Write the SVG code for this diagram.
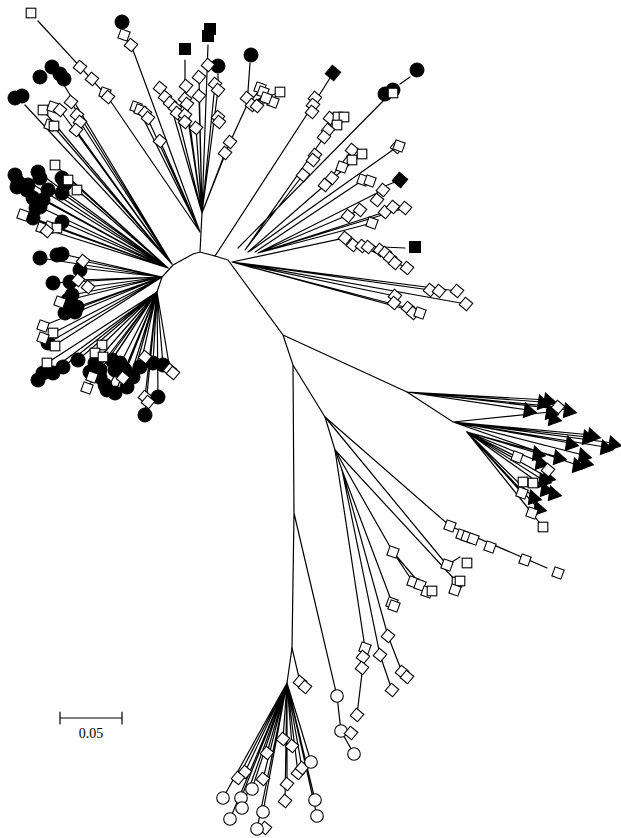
<svg xmlns="http://www.w3.org/2000/svg" xmlns:xlink="http://www.w3.org/1999/xlink" width="621" height="838" viewBox="0 0 621 838">
<style>
.ln{stroke:#000;stroke-width:1.2;fill:none;stroke-linecap:round}
.o{fill:#fff;stroke:#000;stroke-width:1.1}
.f{fill:#000;stroke:#000;stroke-width:1}
.t{font-family:"Liberation Serif",serif;font-size:14px;fill:#000}
</style>
<defs>
<circle id="fc" r="7" class="f"/>
<circle id="oc" r="6.3" class="o"/>
<rect id="dm" x="-4.8" y="-4.8" width="9.6" height="9.6" transform="rotate(40)" class="o"/>
<rect id="d2" x="-4.8" y="-4.8" width="9.6" height="9.6" transform="rotate(20)" class="o"/>
<rect id="sq" x="-4.8" y="-4.8" width="9.6" height="9.6" class="o"/>
<rect id="fs" x="-5.5" y="-5.5" width="11" height="11" class="f"/>
<rect id="fd" x="-5.5" y="-5.5" width="11" height="11" transform="rotate(40)" class="f"/>
<path id="tr" d="M0,-7.5 L7,5.5 L-7,5.5 Z" transform="rotate(-20)" class="f"/>
</defs>
<rect width="621" height="838" fill="#fff"/>
<g id="connectors" class="ln">
<path d="M157,292 L162,277 L173,265 L193,254 L200,252 L215,256 L228,260 M200,252 L202,213 M228,260 L283,335 L293,365 L294,513 L292,648 L287,683 M283,335 L407,392 M293,365 L325,417 L335,450 L342,470 M294,513 L305,560 L337,696 L341,731 L354,754 M341,731 L351,733"/>
<path d="M200,232 L107,96 L38,21 M200,232 L133,50 L124,35 M200,232 L160,141 M200,232 L146,115 M200,232 L138,108 M202,213 L196,128 M202,213 L185,99 L185,60 M202,213 L199,77 M202,213 L208,45 M202,213 L218,90 L218,74 M202,213 L225,153 M202,213 L230,142 M225,153 L247,105 L250,63 M247,105 L260,90 M247,105 L280,92 M247,105 L273,102 M247,105 L265,96 M202,213 L187,104 M202,213 L199,96 M202,213 L215,84 M202,213 L177,113 M202,213 L170,103"/>
<path d="M215,256 L313,105 L330,78 M238,248 L387,97 L397,87 M400,84 L410,77 M245,250 L324,137 L338,117 M324,137 L344,117 M324,137 L330,118 M245,250 L303,175 M248,252 L325,185 L352,150 M325,185 L362,154 M250,251 L397,147 M255,252 L363,180 M363,180 L370,180 M380,188 L395,182 M258,253 L383,190 M258,253 L405,208 M258,253 L385,212 M258,253 L360,210 M258,253 L372,223 M232,262 L345,238 L407,268 M360,246 L405,248 M232,262 L457,291 M232,262 L466,304 M232,262 L430,290 M232,262 L420,313 M232,262 L395,296 M232,262 L408,308"/>
<path d="M407,392 L542,402 M407,392 L548,400 M407,392 L528,410 M407,392 L558,407 M407,392 L568,410 M407,392 L453,422 L587,437 M453,422 L592,435 M453,422 L570,443 M453,422 L605,447 M453,422 L613,443 M453,422 L583,455 M453,422 L577,465 M467,432 L558,457 M467,432 L537,453 M467,432 L517,457 M467,432 L540,462 M467,432 L547,477 M467,432 L553,493 M467,432 L533,497 M467,432 L538,508 M467,432 L543,480 M467,432 L532,513 M467,432 L543,527 M467,432 L522,493 M453,422 L550,412"/>
<path d="M325,417 L450,526 L547,568 M325,417 L447,565 M447,565 L460,557 M335,450 L457,582 M335,450 L393,552 L413,582 M393,552 L427,592 M342,470 L393,605 M342,470 L388,636 L402,672 M342,470 L380,655 L392,690 M335,450 L365,648 L357,715"/>
<path d="M292,648 L300,682 L305,687 M287,683 L245,772 M287,683 L238,778 M287,683 L267,753 M287,683 L263,779 M287,683 L252,789 M287,683 L241,798 M287,683 L223,798 M287,683 L230,819 M287,683 L242,808 M287,683 L263,812 M287,683 L257,829 M287,683 L283,739 M287,683 L292,746 M287,683 L285,801 M287,683 L287,784 M287,683 L298,773 M287,683 L302,768 M287,683 L311,762 M287,683 L315,800 M287,683 L317,816"/>
<path d="M172,264 L71,102 M172,264 L80,122 M172,264 L76,130 M172,264 L43,110 M172,264 L53,126 M172,264 L25,105 M172,264 L64,85 M172,264 L60,110"/>
<path d="M168,268 L13,172 M168,268 L38,172 M168,268 L62,177 M168,268 L55,165 M168,268 L68,178 M168,268 L77,190 M168,268 L27,190 M168,268 L43,200 M168,268 L62,193 M168,268 L40,207 M168,268 L33,218 M168,268 L62,222 M168,268 L23,215 M168,268 L42,228 M168,268 L57,228 M168,268 L50,190"/>
<path d="M162,277 L40,258 M162,277 L62,254 M162,277 L83,261 M162,277 L80,268 M162,277 L53,283 M162,277 L70,282 M162,277 L78,280 M162,277 L88,287 M162,277 L72,295 M162,277 L77,307 M162,277 L65,313 M162,277 L60,302 M162,277 L43,326 M162,277 L53,333 M162,277 L55,345 M162,277 L48,343"/>
<path d="M157,292 L38,380 M157,292 L47,363 M157,292 L63,367 M157,292 L78,360 M157,292 L95,363 M157,292 L102,345 M157,292 L100,377 M157,292 L112,360 M157,292 L115,393 M157,292 L127,387 M157,292 L133,377 M157,292 L140,367 M157,292 L153,363 M157,292 L163,365 M157,292 L170,370 M157,292 L158,397 M157,292 L145,415 M157,292 L145,397 M157,292 L123,378 M157,292 L92,377 M157,292 L87,388 M157,292 L107,390"/>
<path d="M60,718 L122,718 M60,712 L60,724 M122,712 L122,724"/>
</g>
<g id="markers">
<use xlink:href="#sq" x="31" y="13"/>
<use xlink:href="#dm" x="80" y="67"/><use xlink:href="#dm" x="92" y="79"/><use xlink:href="#d2" x="105" y="93"/><use xlink:href="#dm" x="108" y="97"/>
<use xlink:href="#fc" x="122" y="22"/><use xlink:href="#d2" x="124" y="35"/><use xlink:href="#dm" x="131" y="45"/>
<use xlink:href="#dm" x="160" y="141"/><use xlink:href="#d2" x="136" y="107"/><use xlink:href="#d2" x="140" y="110"/><use xlink:href="#dm" x="145" y="113"/><use xlink:href="#dm" x="148" y="118"/>
<use xlink:href="#dm" x="160" y="88"/><use xlink:href="#dm" x="165" y="97"/><use xlink:href="#dm" x="170" y="103"/><use xlink:href="#dm" x="175" y="108"/><use xlink:href="#dm" x="177" y="113"/><use xlink:href="#dm" x="185" y="115"/><use xlink:href="#dm" x="185" y="122"/>
<use xlink:href="#fs" x="185" y="49"/><use xlink:href="#fs" x="208" y="36"/><use xlink:href="#fs" x="210" y="29"/>
<use xlink:href="#fc" x="218" y="66"/><use xlink:href="#dm" x="208" y="65"/><use xlink:href="#fc" x="251" y="55"/>
<use xlink:href="#dm" x="199" y="77"/><use xlink:href="#dm" x="186" y="86"/><use xlink:href="#dm" x="199" y="96"/><use xlink:href="#dm" x="185" y="99"/><use xlink:href="#dm" x="187" y="104"/><use xlink:href="#dm" x="215" y="84"/><use xlink:href="#dm" x="218" y="90"/><use xlink:href="#dm" x="196" y="128"/><use xlink:href="#dm" x="218" y="117"/><use xlink:href="#dm" x="219" y="122"/><use xlink:href="#dm" x="230" y="142"/><use xlink:href="#dm" x="225" y="153"/>
<use xlink:href="#dm" x="247" y="98"/><use xlink:href="#d2" x="260" y="88"/><use xlink:href="#d2" x="263" y="92"/><use xlink:href="#sq" x="280" y="92"/><use xlink:href="#d2" x="273" y="102"/><use xlink:href="#dm" x="252" y="105"/><use xlink:href="#dm" x="257" y="106"/><use xlink:href="#d2" x="266" y="98"/>
<use xlink:href="#fc" x="52" y="67"/><use xlink:href="#fc" x="60" y="74"/><use xlink:href="#fc" x="64" y="79"/><use xlink:href="#fc" x="40" y="77"/><use xlink:href="#fc" x="15" y="98"/><use xlink:href="#fc" x="22" y="96"/>
<use xlink:href="#dm" x="71" y="102"/><use xlink:href="#dm" x="77" y="115"/><use xlink:href="#dm" x="80" y="122"/><use xlink:href="#dm" x="76" y="130"/><use xlink:href="#sq" x="43" y="110"/><use xlink:href="#d2" x="53" y="107"/><use xlink:href="#dm" x="60" y="110"/><use xlink:href="#d2" x="50" y="125"/><use xlink:href="#sq" x="54" y="126"/>
<use xlink:href="#fc" x="15" y="175"/><use xlink:href="#fc" x="18" y="182"/><use xlink:href="#fc" x="17" y="187"/><use xlink:href="#fc" x="38" y="172"/><use xlink:href="#fc" x="40" y="178"/><use xlink:href="#fc" x="62" y="178"/><use xlink:href="#fc" x="65" y="184"/><use xlink:href="#fc" x="27" y="190"/><use xlink:href="#fc" x="33" y="198"/><use xlink:href="#fc" x="43" y="200"/><use xlink:href="#fc" x="62" y="193"/><use xlink:href="#fc" x="40" y="207"/><use xlink:href="#fc" x="33" y="218"/><use xlink:href="#fc" x="62" y="222"/><use xlink:href="#fc" x="28" y="185"/><use xlink:href="#fc" x="48" y="190"/><use xlink:href="#fc" x="36" y="208"/>
<use xlink:href="#sq" x="55" y="165"/><use xlink:href="#sq" x="68" y="180"/><use xlink:href="#sq" x="77" y="190"/><use xlink:href="#d2" x="23" y="215"/><use xlink:href="#d2" x="42" y="228"/><use xlink:href="#d2" x="50" y="227"/><use xlink:href="#sq" x="57" y="228"/><use xlink:href="#dm" x="47" y="231"/>
<use xlink:href="#fc" x="40" y="258"/><use xlink:href="#fc" x="57" y="255"/><use xlink:href="#fc" x="62" y="254"/><use xlink:href="#fc" x="80" y="270"/><use xlink:href="#fc" x="53" y="283"/><use xlink:href="#fc" x="70" y="282"/><use xlink:href="#fc" x="72" y="295"/><use xlink:href="#fc" x="77" y="307"/><use xlink:href="#fc" x="65" y="313"/><use xlink:href="#fc" x="75" y="312"/><use xlink:href="#fc" x="48" y="343"/><use xlink:href="#fc" x="68" y="300"/>
<use xlink:href="#dm" x="83" y="261"/><use xlink:href="#dm" x="78" y="280"/><use xlink:href="#dm" x="88" y="287"/><use xlink:href="#d2" x="60" y="302"/><use xlink:href="#d2" x="43" y="326"/><use xlink:href="#sq" x="53" y="333"/><use xlink:href="#d2" x="43" y="338"/><use xlink:href="#sq" x="55" y="346"/>
<use xlink:href="#fc" x="38" y="380"/><use xlink:href="#fc" x="43" y="373"/><use xlink:href="#fc" x="53" y="373"/><use xlink:href="#fc" x="63" y="367"/><use xlink:href="#fc" x="78" y="360"/><use xlink:href="#fc" x="95" y="363"/><use xlink:href="#fc" x="100" y="377"/><use xlink:href="#fc" x="112" y="360"/><use xlink:href="#fc" x="115" y="370"/><use xlink:href="#fc" x="120" y="363"/><use xlink:href="#fc" x="107" y="390"/><use xlink:href="#fc" x="115" y="393"/><use xlink:href="#fc" x="127" y="387"/><use xlink:href="#fc" x="133" y="377"/><use xlink:href="#fc" x="140" y="367"/><use xlink:href="#fc" x="153" y="363"/><use xlink:href="#fc" x="163" y="365"/><use xlink:href="#fc" x="158" y="397"/><use xlink:href="#fc" x="145" y="415"/><use xlink:href="#fc" x="100" y="370"/><use xlink:href="#fc" x="105" y="385"/><use xlink:href="#fc" x="125" y="370"/><use xlink:href="#fc" x="90" y="372"/>
<use xlink:href="#sq" x="47" y="363"/><use xlink:href="#sq" x="102" y="345"/><use xlink:href="#sq" x="95" y="353"/><use xlink:href="#sq" x="103" y="357"/><use xlink:href="#d2" x="92" y="377"/><use xlink:href="#d2" x="87" y="388"/><use xlink:href="#dm" x="123" y="378"/><use xlink:href="#dm" x="145" y="357"/><use xlink:href="#dm" x="170" y="370"/><use xlink:href="#dm" x="173" y="373"/><use xlink:href="#dm" x="145" y="397"/><use xlink:href="#dm" x="148" y="402"/>
<use xlink:href="#fd" x="333" y="73"/><use xlink:href="#dm" x="315" y="98"/><use xlink:href="#dm" x="313" y="105"/><use xlink:href="#dm" x="312" y="112"/>
<use xlink:href="#fc" x="385" y="94"/><use xlink:href="#fc" x="393" y="90"/><use xlink:href="#sq" x="393" y="93"/><use xlink:href="#fc" x="417" y="70"/>
<use xlink:href="#dm" x="330" y="118"/><use xlink:href="#sq" x="338" y="117"/><use xlink:href="#sq" x="344" y="117"/><use xlink:href="#sq" x="337" y="125"/><use xlink:href="#dm" x="328" y="130"/><use xlink:href="#dm" x="324" y="137"/><use xlink:href="#dm" x="315" y="155"/><use xlink:href="#dm" x="313" y="160"/>
<use xlink:href="#dm" x="397" y="147"/><use xlink:href="#d2" x="399" y="146"/>
<use xlink:href="#dm" x="352" y="150"/><use xlink:href="#sq" x="362" y="154"/><use xlink:href="#sq" x="352" y="160"/><use xlink:href="#d2" x="342" y="167"/><use xlink:href="#dm" x="332" y="178"/><use xlink:href="#dm" x="325" y="185"/><use xlink:href="#dm" x="303" y="175"/>
<use xlink:href="#fd" x="400" y="180"/><use xlink:href="#d2" x="363" y="180"/><use xlink:href="#d2" x="370" y="181"/>
<use xlink:href="#dm" x="383" y="190"/><use xlink:href="#dm" x="377" y="200"/><use xlink:href="#dm" x="385" y="212"/><use xlink:href="#dm" x="393" y="207"/><use xlink:href="#dm" x="405" y="208"/><use xlink:href="#dm" x="360" y="210"/><use xlink:href="#dm" x="348" y="216"/><use xlink:href="#d2" x="372" y="223"/>
<use xlink:href="#dm" x="345" y="238"/><use xlink:href="#dm" x="353" y="245"/><use xlink:href="#dm" x="362" y="246"/><use xlink:href="#dm" x="368" y="247"/><use xlink:href="#dm" x="380" y="250"/><use xlink:href="#dm" x="385" y="253"/><use xlink:href="#dm" x="390" y="258"/><use xlink:href="#dm" x="395" y="263"/><use xlink:href="#dm" x="407" y="268"/><use xlink:href="#fs" x="415" y="247"/>
<use xlink:href="#dm" x="430" y="290"/><use xlink:href="#dm" x="439" y="291"/><use xlink:href="#dm" x="457" y="291"/><use xlink:href="#dm" x="466" y="304"/><use xlink:href="#dm" x="395" y="296"/><use xlink:href="#dm" x="394" y="303"/><use xlink:href="#dm" x="408" y="308"/><use xlink:href="#dm" x="413" y="313"/><use xlink:href="#d2" x="420" y="313"/>
<use xlink:href="#tr" x="542" y="402"/><use xlink:href="#tr" x="548" y="400"/><use xlink:href="#tr" x="528" y="410"/><use xlink:href="#tr" x="550" y="412"/><use xlink:href="#tr" x="568" y="410"/><use xlink:href="#tr" x="553" y="418"/><use xlink:href="#tr" x="587" y="437"/><use xlink:href="#tr" x="592" y="435"/><use xlink:href="#tr" x="570" y="443"/><use xlink:href="#tr" x="605" y="447"/><use xlink:href="#tr" x="613" y="443"/><use xlink:href="#tr" x="558" y="457"/><use xlink:href="#tr" x="537" y="453"/><use xlink:href="#tr" x="583" y="455"/><use xlink:href="#tr" x="577" y="465"/><use xlink:href="#tr" x="585" y="462"/><use xlink:href="#tr" x="540" y="462"/><use xlink:href="#tr" x="547" y="477"/><use xlink:href="#tr" x="553" y="493"/><use xlink:href="#tr" x="533" y="497"/><use xlink:href="#tr" x="538" y="508"/><use xlink:href="#tr" x="543" y="480"/><use xlink:href="#tr" x="545" y="489"/>
<use xlink:href="#dm" x="558" y="407"/><use xlink:href="#d2" x="517" y="457"/><use xlink:href="#dm" x="548" y="470"/><use xlink:href="#sq" x="523" y="482"/><use xlink:href="#sq" x="533" y="483"/><use xlink:href="#d2" x="522" y="493"/><use xlink:href="#d2" x="532" y="513"/><use xlink:href="#sq" x="543" y="527"/>
<use xlink:href="#d2" x="450" y="526"/><use xlink:href="#d2" x="462" y="535"/><use xlink:href="#d2" x="467" y="537"/><use xlink:href="#d2" x="473" y="539"/><use xlink:href="#d2" x="490" y="547"/><use xlink:href="#d2" x="525" y="560"/><use xlink:href="#d2" x="558" y="573"/><use xlink:href="#sq" x="467" y="563"/><use xlink:href="#d2" x="447" y="565"/>
<use xlink:href="#sq" x="457" y="582"/><use xlink:href="#sq" x="460" y="581"/><use xlink:href="#d2" x="455" y="590"/>
<use xlink:href="#d2" x="393" y="552"/><use xlink:href="#d2" x="413" y="582"/><use xlink:href="#d2" x="420" y="585"/><use xlink:href="#d2" x="427" y="592"/><use xlink:href="#sq" x="432" y="591"/>
<use xlink:href="#d2" x="392" y="603"/><use xlink:href="#d2" x="394" y="606"/><use xlink:href="#dm" x="388" y="636"/><use xlink:href="#dm" x="380" y="655"/><use xlink:href="#dm" x="402" y="672"/><use xlink:href="#dm" x="407" y="677"/><use xlink:href="#dm" x="392" y="690"/>
<use xlink:href="#d2" x="365" y="648"/><use xlink:href="#dm" x="363" y="657"/><use xlink:href="#dm" x="362" y="668"/><use xlink:href="#dm" x="357" y="715"/>
<use xlink:href="#oc" x="337" y="696"/><use xlink:href="#oc" x="341" y="731"/><use xlink:href="#dm" x="351" y="733"/><use xlink:href="#oc" x="354" y="754"/>
<use xlink:href="#dm" x="300" y="682"/><use xlink:href="#dm" x="305" y="687"/>
<use xlink:href="#dm" x="283" y="739"/><use xlink:href="#dm" x="292" y="746"/><use xlink:href="#dm" x="267" y="753"/><use xlink:href="#dm" x="245" y="772"/><use xlink:href="#dm" x="238" y="778"/><use xlink:href="#dm" x="263" y="779"/><use xlink:href="#dm" x="298" y="773"/><use xlink:href="#dm" x="302" y="768"/><use xlink:href="#dm" x="287" y="784"/><use xlink:href="#dm" x="285" y="801"/><use xlink:href="#dm" x="265" y="828"/>
<use xlink:href="#oc" x="311" y="762"/><use xlink:href="#oc" x="252" y="789"/><use xlink:href="#oc" x="241" y="798"/><use xlink:href="#oc" x="223" y="798"/><use xlink:href="#oc" x="242" y="808"/><use xlink:href="#oc" x="263" y="812"/><use xlink:href="#oc" x="230" y="819"/><use xlink:href="#oc" x="257" y="829"/><use xlink:href="#oc" x="315" y="800"/><use xlink:href="#oc" x="317" y="816"/>
</g>
<text class="t" x="91" y="738" text-anchor="middle">0.05</text>
</svg>
